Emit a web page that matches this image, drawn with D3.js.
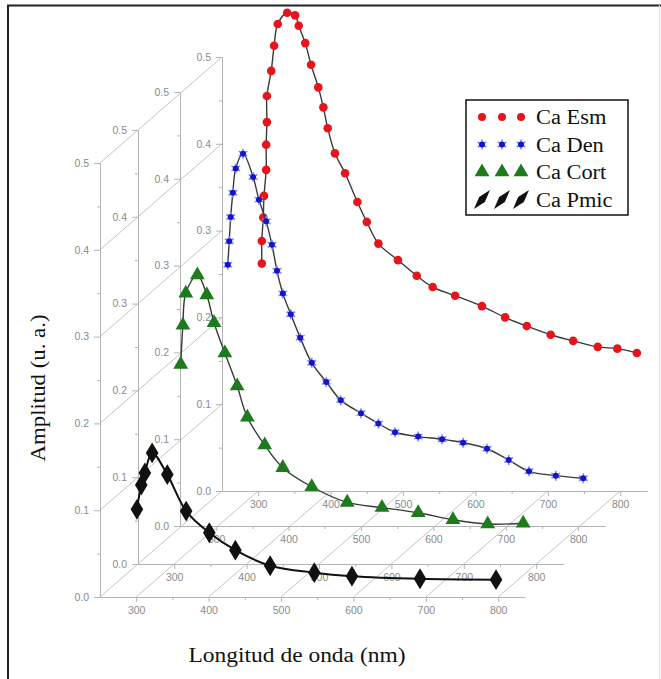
<!DOCTYPE html>
<html>
<head>
<meta charset="utf-8">
<script src="https://cdn.jsdelivr.net/npm/d3@7"></script>
<style>
  body { margin: 0; background: #fff; }
  .tick text { font-family: "Liberation Sans", Arial, sans-serif; font-size: 10.5px; fill: #8a8a8a; }
  text.serif { font-family: "Liberation Serif", "DejaVu Serif", serif; font-size: 20px; fill: #111; }
</style>
</head>
<body>
<div id="chart"></div>
<script>
// Series data (wavelength nm, amplitude u.a.)
var esmWave = [305, 305, 307, 308, 311, 311, 312, 312, 318, 322, 327, 340, 351, 356, 365, 373, 383, 390,
               396, 406, 420, 437, 450, 466, 493, 519, 541, 572, 609, 641, 671, 704, 735, 769, 796, 823];
var esmAmp  = [0.262, 0.288, 0.315, 0.340, 0.370, 0.399, 0.425, 0.455, 0.484, 0.513, 0.538, 0.551, 0.548, 0.536,
               0.516, 0.491, 0.465, 0.442, 0.418, 0.389, 0.366, 0.333, 0.310, 0.285, 0.266, 0.248, 0.235, 0.225,
               0.213, 0.200, 0.190, 0.180, 0.173, 0.166, 0.164, 0.159];

var denWave = [316, 318, 320, 323, 327, 337, 351, 359, 369, 377, 384, 392, 403, 416, 432, 452, 472, 500,
               524, 547, 579, 612, 641, 674, 704, 732, 769, 807];
var denAmp  = [0.301, 0.328, 0.356, 0.384, 0.412, 0.429, 0.402, 0.376, 0.351, 0.324, 0.294, 0.268, 0.244, 0.217,
               0.188, 0.166, 0.145, 0.130, 0.118, 0.108, 0.103, 0.100, 0.096, 0.089, 0.076, 0.063, 0.058, 0.055];

var cortWave = [309, 312, 316, 332, 345, 355, 370, 387, 401, 425, 450, 490, 539, 587, 637, 685, 733, 782];
var cortAmp  = [0.230, 0.275, 0.312, 0.333, 0.310, 0.278, 0.243, 0.205, 0.169, 0.137, 0.111, 0.089, 0.071,
                0.065, 0.059, 0.051, 0.046, 0.047];

var pmicWave = [301, 307, 312, 322, 343, 369, 401, 437, 485, 546, 598, 692, 797];
var pmicAmp  = [0.101, 0.129, 0.143, 0.166, 0.141, 0.099, 0.074, 0.054, 0.036, 0.028, 0.024, 0.021, 0.020];

var seriesNames = ["Ca Esm", "Ca Den", "Ca Cort", "Ca Pmic"];
var xTicks = [300, 400, 500, 600, 700, 800];
var xMinor = [350, 450, 550, 650, 750];
var yTicks = [0.0, 0.1, 0.2, 0.3, 0.4, 0.5];
var yMinor = [0.05, 0.15, 0.25, 0.35, 0.45];

var svgWidth = 661;
var svgHeight = 679;

var svg = d3.select("#chart")
    .append("svg")
    .attr("width", svgWidth)
    .attr("height", svgHeight);

// frame
svg.append("path")
    .attr("d", "M8,679V5.5H661")
    .attr("fill", "none")
    .attr("stroke", "#222")
    .attr("stroke-width", 2);
svg.append("line")
    .attr("x1", 659.5).attr("x2", 659.5).attr("y1", 5).attr("y2", 679)
    .attr("stroke", "#ddd");

// plane offsets, front (Pmic) to back (Esm)
var planes = [
    { dx: 0,   y0: 597 },
    { dx: 38,  y0: 564 },
    { dx: 80,  y0: 526 },
    { dx: 122, y0: 491 }
];

var xScale = d3.scaleLinear().domain([250, 837]).range([100, 525]);
var yScale = d3.scaleLinear().domain([0, 0.5]).range([0, -434]);

var front = planes[0], back = planes[3];
var grid = svg.append("g").attr("stroke", "#c4c4c4").attr("stroke-width", 1);

// wall diagonals at y ticks
grid.selectAll(".wall")
    .data(yTicks)
    .enter()
    .append("line")
    .attr("x1", xScale.range()[0] + front.dx)
    .attr("y1", d => front.y0 + yScale(d))
    .attr("x2", xScale.range()[0] + back.dx)
    .attr("y2", d => back.y0 + yScale(d));

// floor diagonals at x ticks
grid.selectAll(".floor")
    .data(xTicks)
    .enter()
    .append("line")
    .attr("x1", d => xScale(d) + front.dx)
    .attr("y1", front.y0)
    .attr("x2", d => xScale(d) + back.dx)
    .attr("y2", back.y0);

// axes for each plane, drawn back to front
planes.slice().reverse().forEach(function (p) {
    var g = svg.append("g").attr("transform", `translate(${p.dx}, ${p.y0})`);

    g.append("g").attr("class", "axis")
        .call(d3.axisBottom(xScale).tickValues(xTicks).tickSize(5).tickSizeOuter(0).tickPadding(5));
    g.append("g").attr("class", "axis")
        .call(d3.axisBottom(xScale).tickValues(xMinor).tickSize(3).tickFormat("").tickSizeOuter(0));

    g.append("g").attr("class", "axis")
        .attr("transform", `translate(${xScale.range()[0]}, 0)`)
        .call(d3.axisLeft(yScale).tickValues(yTicks).tickSize(6).tickSizeOuter(0)
              .tickPadding(5).tickFormat(d3.format(".1f")));
    g.append("g").attr("class", "axis")
        .attr("transform", `translate(${xScale.range()[0]}, 0)`)
        .call(d3.axisLeft(yScale).tickValues(yMinor).tickSize(3).tickFormat("").tickSizeOuter(0));
});

svg.selectAll(".axis path").attr("stroke", "#b4b4b4");
svg.selectAll(".axis line").attr("stroke", "#b4b4b4");

// series
var series = [
    { wave: esmWave,  amp: esmAmp,  plane: 3, color: "#e8141c" },
    { wave: denWave,  amp: denAmp,  plane: 2, color: "#1414c8" },
    { wave: cortWave, amp: cortAmp, plane: 1, color: "#1d7a1d" },
    { wave: pmicWave, amp: pmicAmp, plane: 0, color: "#111111" }
];

// draw one marker of a series into a group
function marker(sel, s, legendMark) {
    if (s.plane === 3) {
        sel.append("circle").attr("r", legendMark ? 4 : 4.3).attr("fill", s.color);
    } else if (s.plane === 2) {
        sel.append("path")
            .attr("d", d3.symbol().type(d3.symbolAsterisk).size(70))
            .attr("fill", "none").attr("stroke", "#7d8cff").attr("stroke-width", 1.6);
        sel.append("circle").attr("r", 3).attr("fill", s.color);
    } else if (s.plane === 1) {
        sel.append("path")
            .attr("d", d3.symbol().type(d3.symbolTriangle).size(95))
            .attr("fill", s.color);
    } else {
        sel.append("path")
            .attr("transform", legendMark ? "rotate(40) scale(0.75, 1.45)" : "scale(1.05, 1)")
            .attr("d", d3.symbol().type(d3.symbolDiamond).size(legendMark ? 85 : 125))
            .attr("fill", s.color);
    }
}

var line = d3.line()
    .x(d => xScale(d[0]))
    .y(d => yScale(d[1]))
    .curve(d3.curveCatmullRom.alpha(0.5));

series.forEach(function (s) {
    var p = planes[s.plane];
    var pts = s.wave.map((w, i) => [w, s.amp[i]]);
    var g = svg.append("g").attr("transform", `translate(${p.dx}, ${p.y0})`);

    g.append("path")
        .datum(pts)
        .attr("d", line)
        .attr("fill", "none")
        .attr("stroke", s.plane === 0 ? "#111" : "#3a3a3a")
        .attr("stroke-width", s.plane === 0 ? 2 : 1.4);

    g.selectAll("g.mark")
        .data(pts)
        .enter()
        .append("g")
        .attr("class", "mark")
        .attr("transform", d => `translate(${xScale(d[0])}, ${yScale(d[1])})`)
        .each(function () { marker(d3.select(this), s, false); });
});

// legend
var legend = svg.append("g").attr("transform", "translate(466, 100)");
legend.append("rect")
    .attr("width", 162).attr("height", 115)
    .attr("fill", "#fff").attr("stroke", "#111").attr("stroke-width", 1.5);

var rows = legend.selectAll(".row")
    .data(series)
    .enter()
    .append("g")
    .attr("transform", (d, i) => `translate(0, ${17 + i * 27.5})`);

rows.each(function (s) {
    var r = d3.select(this);
    [16, 36, 55].forEach(function (cx) {
        marker(r.append("g").attr("transform", `translate(${cx}, 0)`), s, true);
    });
});

rows.append("text")
    .attr("class", "serif")
    .attr("x", 70)
    .attr("y", 7)
    .text((d, i) => seriesNames[i])
    .each(function () {
        var len = this.getComputedTextLength();
        d3.select(this).attr("textLength", len * 1.12).attr("lengthAdjust", "spacingAndGlyphs");
    });

// axis titles
svg.append("text")
    .attr("class", "serif")
    .attr("text-anchor", "middle")
    .attr("x", 297)
    .attr("y", 662)
    .attr("textLength", 217)
    .attr("lengthAdjust", "spacingAndGlyphs")
    .text("Longitud de onda (nm)");

svg.append("text")
    .attr("class", "serif")
    .attr("text-anchor", "middle")
    .attr("transform", "translate(45, 388) rotate(-90)")
    .attr("textLength", 147)
    .attr("lengthAdjust", "spacingAndGlyphs")
    .text("Amplitud (u. a.)");
</script>
</body>
</html>
